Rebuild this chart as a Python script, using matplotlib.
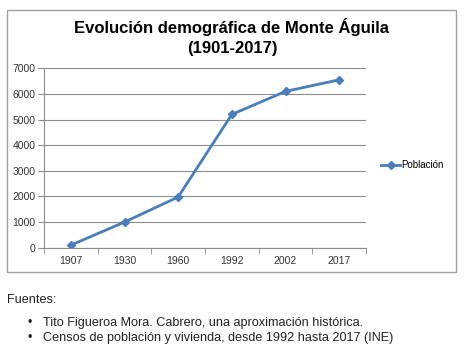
import matplotlib
matplotlib.use("Agg")
import matplotlib.pyplot as plt
from matplotlib.patches import Rectangle

plt.rcParams['font.family'] = ['Liberation Sans', 'DejaVu Sans']

# datos
years = ['1907', '1930', '1960', '1992', '2002', '2017']
population = [100, 1000, 1980, 5200, 6100, 6550]
y_ticks = [0, 1000, 2000, 3000, 4000, 5000, 6000, 7000]
title = 'Evolución demográfica de Monte Águila\n(1901-2017)'
series_name = 'Población'
sources = ['Tito Figueroa Mora. Cabrero, una aproximación histórica.',
           'Censos de población y vivienda, desde 1992 hasta 2017 (INE)']

blue = '#4a7ebb'
grid_gray = '#8c8c8c'

fig = plt.figure(figsize=(4.68, 3.47), dpi=100)

# marco del grafico
fig.patches.append(Rectangle((7 / 468, 1 - 272 / 347), 449 / 468, 262 / 347,
                             transform=fig.transFigure, fill=False,
                             edgecolor='#a0a0a0', linewidth=1.0))

ax = fig.add_axes([44 / 468, 1 - 247.7 / 347, 322 / 468, 179.4 / 347])
x = range(len(years))
ax.plot(x, population, color=blue, linewidth=2.0, marker='D', markersize=4.5,
        label=series_name)

ax.set_xlim(-0.5, len(years) - 0.5)
ax.set_ylim(0, 7000)
ax.set_yticks(y_ticks)
ax.set_xticks(list(x))
ax.set_xticklabels(years)
ax.set_xticks([i - 0.5 for i in range(len(years) + 1)], minor=True)
ax.tick_params(axis='x', which='major', length=0, pad=6, labelsize=7.5, labelcolor='#333333')
ax.tick_params(axis='x', which='minor', length=4, color=grid_gray, direction='out')
ax.tick_params(axis='y', length=4, color=grid_gray, labelsize=7.5, labelcolor='#333333', pad=2)
ax.yaxis.grid(True, color=grid_gray, linewidth=0.8)
ax.set_axisbelow(True)
for s in ['top', 'right']:
    ax.spines[s].set_visible(False)
for s in ['left', 'bottom']:
    ax.spines[s].set_color(grid_gray)
    ax.spines[s].set_linewidth(0.8)

fig.legend(loc='center left', bbox_to_anchor=(381 / 468, 1 - 165 / 347),
           frameon=False, fontsize=7, handlelength=2.0, handletextpad=0.1,
           borderaxespad=0, borderpad=0)

fig.text(232 / 468, 1 - 37 / 347, title, ha='center', va='center',
         fontsize=12, fontweight='bold', linespacing=1.35)

fig.text(7 / 468, 1 - 300 / 347, 'Fuentes:', ha='left', va='center',
         fontsize=9.1, color='#222222')
for i, line in enumerate(sources):
    yy = 1 - (323 + i * 15) / 347
    fig.text(27 / 468, yy, '•', ha='left', va='center', fontsize=9.1, color='#222222')
    fig.text(43 / 468, yy, line, ha='left', va='center', fontsize=9.1, color='#222222')

fig.savefig('out.png', dpi=100)
